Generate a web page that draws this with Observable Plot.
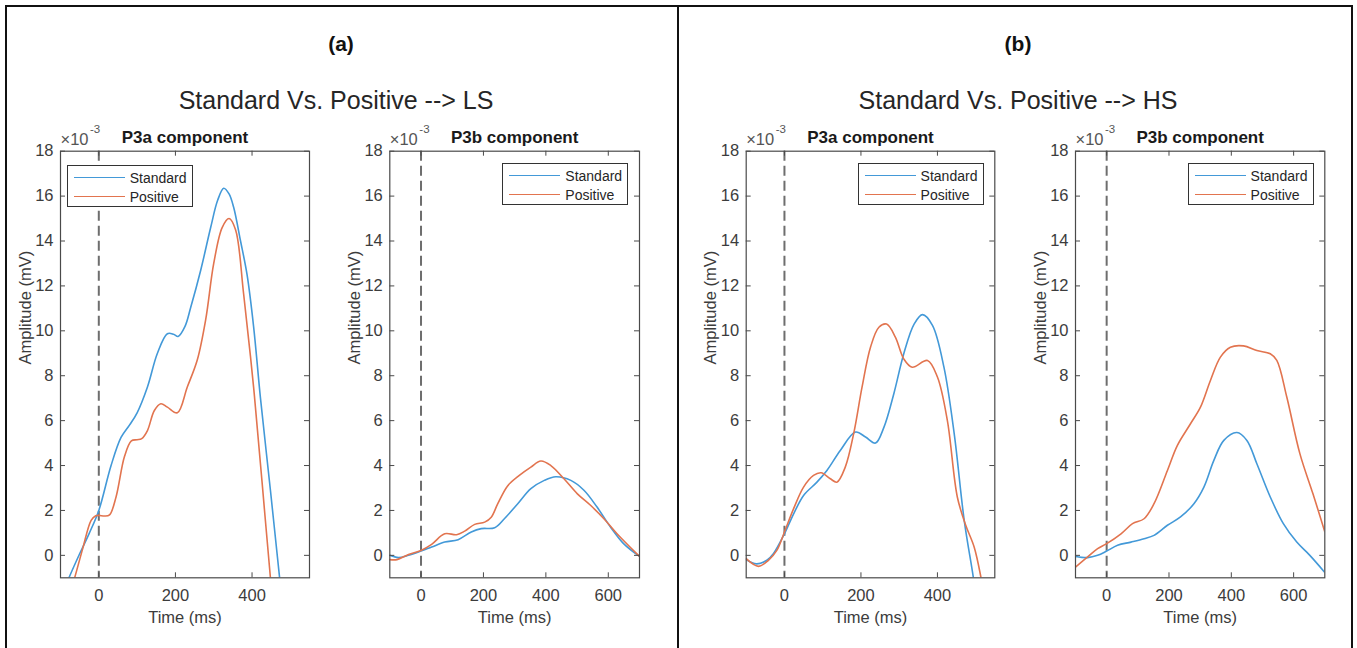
<!DOCTYPE html>
<html>
<head>
<meta charset="utf-8">
<script src="https://cdn.jsdelivr.net/npm/d3@7"></script>
<script src="https://cdn.jsdelivr.net/npm/@observablehq/plot@0.6"></script>
<style>
  html, body { margin: 0; padding: 0; background: #fff; }
  body { font-family: "Liberation Sans", Arial, Helvetica, sans-serif; }
  #root { position: relative; width: 1357px; height: 648px; overflow: hidden; background: #fff; }
  .box { position: absolute; border: 2px solid #111; box-sizing: border-box; }
  .hdr { position: absolute; text-align: center; white-space: nowrap; }
  .lab { font-weight: bold; font-size: 21px; color: #111; }
  .ttl { font-size: 25px; color: #262626; }
  .panel { position: absolute; }
  .legend { position: absolute; width: 126px; height: 42px; border: 1px solid #333; background: #fff; box-sizing: border-box; font-size: 14px; color: #262626; }
  .row { position: absolute; left: 0; height: 18px; width: 100%; }
  .row .sw { position: absolute; left: 6px; top: 8px; width: 51px; height: 0; border-top: 1.8px solid; }
  .row .tx { position: absolute; left: 62px; top: 0; line-height: 18px; }
</style>
</head>
<body>
<div id="root"></div>
<script>
// ---------- data (time in ms, amplitude in 1e-3 mV) ----------
const seriesNames = ["Standard", "Positive"];
const yTicks = [0, 2, 4, 6, 8, 10, 12, 14, 16, 18];
const xTicksShort = [0, 200, 400];
const xTicksLong = [0, 200, 400, 600];
const sectionLabels = ["(a)", "(b)"];
const sectionTitles = ["Standard Vs. Positive --> LS", "Standard Vs. Positive --> HS"];
const panelTitles = ["P3a component", "P3b component", "P3a component", "P3b component"];

const lsP3aStandard = [[-100,-1.9],[-78,-1.0],[-50,0.07],[-25,0.98],[0,2.0],[32,4.0],[58,5.25],[80,5.8],[100,6.35],[127,7.5],[153,9.0],[179,9.87],[195,9.85],[207,9.75],[225,10.2],[240,11.05],[266,12.7],[292,14.6],[310,15.8],[326,16.35],[340,16.1],[352,15.5],[370,14.0],[387,12.5],[404,10.2],[422,7.0],[448,2.9],[472,-1.0],[480,-2.2]];
const lsP3aPositive = [[-90,-2.6],[-63,-1.0],[-42,0.3],[-20,1.56],[-8,1.76],[0,1.78],[15,1.75],[28,1.8],[45,2.6],[67,4.4],[85,5.1],[100,5.15],[112,5.2],[127,5.56],[145,6.45],[162,6.75],[179,6.6],[205,6.35],[231,7.5],[257,8.7],[279,10.5],[300,13.0],[322,14.6],[340,15.0],[357,14.5],[378,11.65],[404,7.5],[426,3.3],[448,-1.0],[460,-3.0]];

const lsP3bStandard = [[-100,0.0],[-72,-0.1],[-40,0.0],[0,0.19],[34,0.37],[76,0.59],[119,0.7],[161,1.04],[193,1.19],[236,1.23],[267,1.63],[310,2.3],[352,2.97],[395,3.34],[432,3.5],[480,3.34],[522,2.9],[564,2.15],[607,1.26],[649,0.52],[700,-0.05]];
const lsP3bPositive = [[-100,-0.19],[-77,-0.19],[-40,0.04],[0,0.22],[34,0.49],[76,0.96],[114,0.92],[140,1.08],[172,1.38],[204,1.48],[225,1.7],[246,2.3],[278,3.1],[315,3.56],[352,3.93],[384,4.2],[416,4.0],[458,3.41],[501,2.74],[543,2.23],[586,1.63],[628,0.96],[700,-0.05]];

const hsP3aStandard = [[-100,-0.19],[-73,-0.38],[-46,-0.22],[-29,0.07],[0,0.96],[24,1.85],[50,2.67],[85,3.26],[111,3.78],[146,4.67],[186,5.49],[212,5.27],[238,5.0],[260,5.7],[286,7.2],[312,8.98],[339,10.3],[361,10.72],[387,10.24],[417,8.38],[444,5.4],[470,1.56],[494,-1.0],[505,-2.4]];
const hsP3aPositive = [[-100,-0.15],[-68,-0.49],[-42,-0.22],[-20,0.22],[0,1.04],[24,2.08],[50,3.04],[76,3.56],[96,3.68],[120,3.41],[137,3.26],[159,3.93],[181,5.42],[203,7.5],[225,9.27],[247,10.16],[267,10.3],[290,9.72],[312,8.75],[334,8.38],[374,8.68],[400,7.94],[426,6.0],[452,2.6],[474,1.34],[496,0.37],[514,-1.0],[522,-1.8]];

const hsP3bStandard = [[-100,-0.05],[-61,-0.1],[-29,0.0],[0,0.19],[35,0.45],[78,0.59],[120,0.74],[152,0.89],[195,1.34],[237,1.71],[280,2.3],[312,3.04],[344,4.23],[376,5.12],[418,5.47],[450,5.12],[482,4.08],[525,2.6],[567,1.41],[610,0.59],[652,0.0],[700,-0.76]];
const hsP3bPositive = [[-100,-0.52],[-61,-0.07],[-29,0.3],[0,0.52],[46,0.96],[83,1.41],[120,1.63],[152,2.3],[195,3.78],[227,4.9],[269,5.86],[301,6.6],[333,7.79],[365,8.83],[397,9.27],[439,9.33],[482,9.12],[525,8.98],[546,8.68],[578,7.05],[620,4.53],[662,2.74],[700,1.05]];

// ---------- layout ----------
const blue = "#4399d8", orange = "#e2744f";
const axisColor = "#4a4a4a", tickText = "#3c3c3c";
const root = document.getElementById("root");

function addDiv(cls, style, html) {
  const d = document.createElement("div");
  d.className = cls;
  Object.assign(d.style, style);
  if (html != null) d.innerHTML = html;
  root.appendChild(d);
  return d;
}

// outer boxes
addDiv("box", {left: "5px", top: "5px", width: "674px", height: "646px"});
addDiv("box", {left: "677px", top: "5px", width: "676px", height: "646px"});

// section headers
const labelCenters = [341, 1018];
const titleCenters = [336, 1018];
sectionLabels.forEach((lab, i) => {
  addDiv("hdr lab", {left: (labelCenters[i] - 100) + "px", width: "200px", top: "32px"}, lab);
  addDiv("hdr ttl", {left: (titleCenters[i] - 250) + "px", width: "500px", top: "86px"}, sectionTitles[i]);
});

const FY0 = 150.7, FY1 = 577.3;
const panels = [
  {svgLeft: 8,    fx0: 60,    fx1: 309,    xDomain: [-100, 550], xTicks: xTicksShort, std: lsP3aStandard, pos: lsP3aPositive, title: panelTitles[0], legend: "left"},
  {svgLeft: 340,  fx0: 389.3, fx1: 639,    xDomain: [-100, 700], xTicks: xTicksLong,  std: lsP3bStandard, pos: lsP3bPositive, title: panelTitles[1], legend: "right"},
  {svgLeft: 690,  fx0: 745.7, fx1: 994.3,  xDomain: [-100, 550], xTicks: xTicksShort, std: hsP3aStandard, pos: hsP3aPositive, title: panelTitles[2], legend: "right"},
  {svgLeft: 1020, fx0: 1075,  fx1: 1324.3, xDomain: [-100, 700], xTicks: xTicksLong,  std: hsP3bStandard, pos: hsP3bPositive, title: panelTitles[3], legend: "right"}
];

panels.forEach(p => {
  const svgTop = 120, W = 330, H = 520;
  const ml = p.fx0 - p.svgLeft, mr = p.svgLeft + W - p.fx1;
  const mt = FY0 - svgTop, mb = svgTop + H - FY1;
  const fw = p.fx1 - p.fx0, fh = FY1 - FY0;
  const tick = 5;
  const fs = 16.5;
  const chart = Plot.plot({
    width: W, height: H,
    marginLeft: ml, marginRight: mr, marginTop: mt, marginBottom: mb,
    style: {fontFamily: '"Liberation Sans", Arial, Helvetica, sans-serif', background: "transparent", overflow: "visible"},
    x: {domain: p.xDomain},
    y: {domain: [-1, 18]},
    marks: [
      Plot.ruleX([0], {stroke: "#6e6e6e", strokeWidth: 2, strokeDasharray: "10,5"}),
      Plot.line(p.std, {x: d => d[0], y: d => d[1], stroke: blue, strokeWidth: 1.6, curve: "catmull-rom", clip: true}),
      Plot.line(p.pos, {x: d => d[0], y: d => d[1], stroke: orange, strokeWidth: 1.6, curve: "catmull-rom", clip: true}),
      Plot.ruleY(yTicks, {y: d => d, insetRight: fw - tick, stroke: axisColor}),
      Plot.ruleY(yTicks, {y: d => d, insetLeft: fw - tick, stroke: axisColor}),
      Plot.ruleX(p.xTicks, {x: d => d, insetTop: fh - tick, stroke: axisColor}),
      Plot.ruleX(p.xTicks, {x: d => d, insetBottom: fh - tick, stroke: axisColor}),
      Plot.frame({stroke: axisColor, strokeWidth: 1.2}),
      Plot.axisY(yTicks, {tickSize: 0, tickPadding: 7, fontSize: fs, fill: tickText, label: null}),
      Plot.axisX(p.xTicks, {tickSize: 0, tickPadding: 11, fontSize: fs, fill: tickText, label: null}),
      Plot.text([p.title], {frameAnchor: "top", dy: -14, lineAnchor: "middle", fontWeight: "bold", fontSize: 17, fill: "#1a1a1a"}),
      Plot.text(["×10"], {frameAnchor: "top-left", dx: 0, dy: -11, lineAnchor: "middle", textAnchor: "start", fontSize: 16.5, fill: "#555"}),
      Plot.text(["-3"], {frameAnchor: "top-left", dx: 29.5, dy: -22, lineAnchor: "middle", textAnchor: "start", fontSize: 11.5, fill: "#555"}),
      Plot.text(["Amplitude (mV)"], {frameAnchor: "left", dx: -35, rotate: -90, lineAnchor: "middle", fontSize: fs, fill: tickText}),
      Plot.text(["Time (ms)"], {frameAnchor: "bottom", dy: 40, lineAnchor: "middle", fontSize: fs, fill: tickText})
    ]
  });
  const holder = addDiv("panel", {left: p.svgLeft + "px", top: svgTop + "px"});
  holder.appendChild(chart);

  // legend
  const lw = 126;
  const lx = p.legend === "left" ? p.fx0 + 6.7 : p.fx1 - 10.7 - lw;
  const ly = p.legend === "left" ? FY0 + 14.3 : FY0 + 12.6;
  const lg = addDiv("legend", {left: lx + "px", top: ly + "px"});
  [[blue, seriesNames[0], 3], [orange, seriesNames[1], 22]].forEach(([c, name, top]) => {
    const r = document.createElement("div");
    r.className = "row";
    r.style.top = top + "px";
    r.innerHTML = `<span class="sw" style="border-top-color:${c}"></span><span class="tx">${name}</span>`;
    lg.appendChild(r);
  });
});
</script>
</body>
</html>
